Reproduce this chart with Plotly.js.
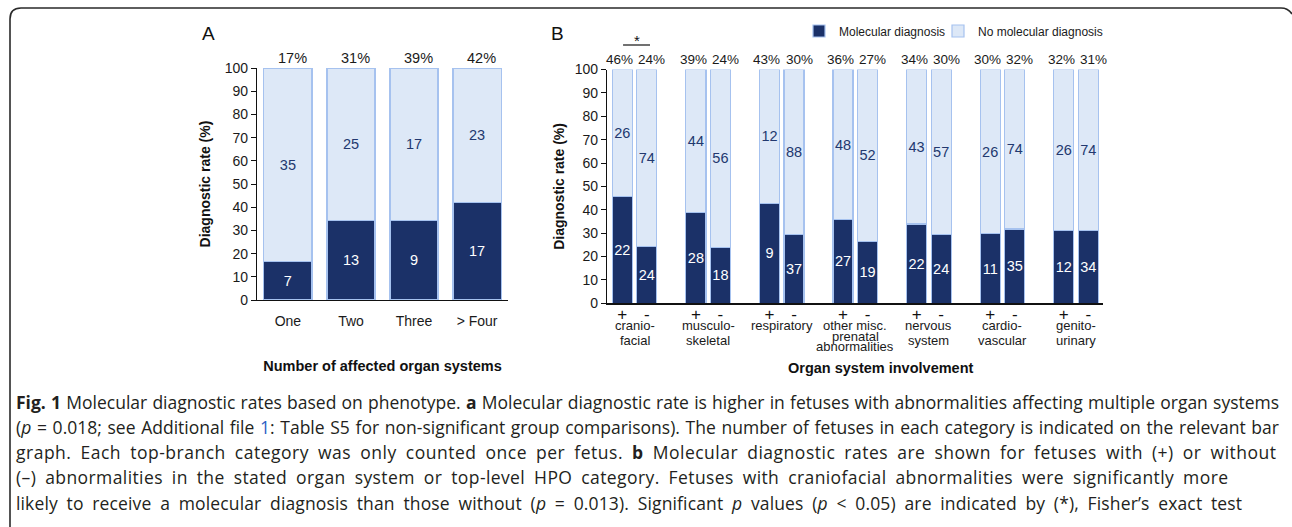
<!DOCTYPE html>
<html><head><meta charset="utf-8">
<script src="https://cdn.plot.ly/plotly-3.0.1.min.js"></script>
<style>html,body{margin:0;padding:0;background:#fff;overflow:hidden}#chart{width:1292px;height:527px}</style>
</head><body><div id="chart"></div>
<script>
// ---------- data ----------
const categoriesA = ['One', 'Two', 'Three', '> Four'];
const diagRateA = [16.5, 34.1, 34.4, 42.2];
const countDxA = [7, 13, 9, 17];
const countNoDxA = [35, 25, 17, 23];
const pctLabelsA = ['17%', '31%', '39%', '42%'];

const groupsB = ['cranio-<br>facial', 'musculo-<br>skeletal', 'respiratory', 'other misc.<br>prenatal<br>abnormalities', 'nervous<br>system', 'cardio-<br>vascular', 'genito-<br>urinary'];
const signsB = ['+', '-'];
const diagRateB = [45.6, 24.3, 38.7, 23.9, 42.8, 29.3, 35.8, 26.5, 33.9, 29.3, 29.7, 31.8, 31.2, 31.2];
const countDxB = [22, 24, 28, 18, 9, 37, 27, 19, 22, 24, 11, 35, 12, 34];
const countNoDxB = [26, 74, 44, 56, 12, 88, 48, 52, 43, 57, 26, 74, 26, 74];
const pctLabelsB = ['46%', '24%', '39%', '24%', '43%', '30%', '36%', '27%', '34%', '30%', '30%', '32%', '32%', '31%'];
const significantGroupsB = [0];

const seriesNames = ['Molecular diagnosis', 'No molecular diagnosis'];
const panelLabels = ['A', 'B'];
const axisTitles = ['<b>Number of affected organ systems</b>', '<b>Organ system involvement</b>', '<b>Diagnostic rate (%)</b>'];

const captionLines = [
  '<b>Fig. 1</b> Molecular diagnostic rates based on phenotype. <b>a</b> Molecular diagnostic rate is higher in fetuses with abnormalities affecting multiple organ systems',
  '(<i>p</i> = 0.018; see Additional file <span style="color:#2b5fc4">1</span>: Table S5 for non-significant group comparisons). The number of fetuses in each category is indicated on the relevant bar',
  'graph. Each top-branch category was only counted once per fetus. <b>b</b> Molecular diagnostic rates are shown for fetuses with (+) or without',
  '(\u2013) abnormalities in the stated organ system or top-level HPO category. Fetuses with craniofacial abnormalities were significantly more',
  'likely to receive a molecular diagnosis than those without (<i>p</i> = 0.013). Significant <i>p</i> values (<i>p</i> &lt; 0.05) are indicated by (*), Fisher\u2019s exact test'
];
const captionLineEnds = [1277, 1277, 1274, 1226, 1240];

// ---------- helpers ----------
const W = 1292, H = 527;
const px = x => x / W;
const py = y => 1 - y / H;
const DARK = '#1b3168', LIGHT = '#dde8f7', EDGE = '#a6c2ef';
const FONT = 'Liberation Sans, Arial, sans-serif';
const CAP_X = 14;

const xB = diagRateB.map((_, i) => Math.floor(i / 2) * 3 + (i % 2));
const tickTextB = diagRateB.map((_, i) => signsB[i % 2]);

const barCommon = {
  type: 'bar', textposition: 'inside', insidetextanchor: 'middle', textangle: 0,
  constraintext: 'none', hoverinfo: 'skip', cliponaxis: false
};

const traces = [
  Object.assign({}, barCommon, {
    name: seriesNames[0], legend: 'legend', x: categoriesA, y: diagRateA,
    text: countDxA.map(String), width: 0.762, xaxis: 'x', yaxis: 'y',
    marker: {color: DARK, line: {color: EDGE, width: 1.2}},
    insidetextfont: {color: '#ffffff', size: 14.5, family: FONT}
  }),
  Object.assign({}, barCommon, {
    name: seriesNames[1], legend: 'legend2', x: categoriesA, y: diagRateA.map(v => 100 - v),
    text: countNoDxA.map(String), width: 0.762, xaxis: 'x', yaxis: 'y',
    marker: {color: LIGHT, line: {color: EDGE, width: 1.2}},
    insidetextfont: {color: '#22386f', size: 14.5, family: FONT}
  }),
  Object.assign({}, barCommon, {
    name: seriesNames[0], showlegend: false, x: xB, y: diagRateB,
    text: countDxB.map(String), width: 0.816, xaxis: 'x2', yaxis: 'y2',
    marker: {color: DARK, line: {color: EDGE, width: 1.2}},
    insidetextfont: {color: '#ffffff', size: 14.5, family: FONT}
  }),
  Object.assign({}, barCommon, {
    name: seriesNames[1], showlegend: false, x: xB, y: diagRateB.map(v => 100 - v),
    text: countNoDxB.map(String), width: 0.816, xaxis: 'x2', yaxis: 'y2',
    marker: {color: LIGHT, line: {color: EDGE, width: 1.2}},
    insidetextfont: {color: '#22386f', size: 14.5, family: FONT}
  })
];

const annotations = [];
const txt = (o) => Object.assign({showarrow: false, yanchor: 'middle', xanchor: 'center', font: {family: FONT, size: 14, color: '#1a1a1a'}}, o);

annotations.push(txt({text: panelLabels[0], xref: 'paper', yref: 'paper', x: px(208), y: py(33), font: {family: FONT, size: 19, color: '#111'}}));
annotations.push(txt({text: panelLabels[1], xref: 'paper', yref: 'paper', x: px(557), y: py(33), font: {family: FONT, size: 19, color: '#111'}}));

pctLabelsA.forEach((t, i) => annotations.push(txt({text: t, xref: 'x', yref: 'paper', x: categoriesA[i], y: py(58.5), xshift: 4.5,
  font: {family: FONT, size: 14.5, color: '#1a1a1a'}})));
pctLabelsB.forEach((t, i) => annotations.push(txt({text: t, xref: 'x2', yref: 'paper', x: xB[i], y: py(59.5),
  xshift: i % 2 ? 5 : -2.5, font: {family: FONT, size: 13.5, color: '#1a1a1a'}})));

significantGroupsB.forEach(g => annotations.push(txt({text: '*', xref: 'x2', yref: 'paper', x: g * 3 + 0.58, y: py(40.5), font: {family: FONT, size: 15, color: '#111'}})));

groupsB.forEach((label, g) => {
  const lines = label.split('<br>');
  const step = lines.length > 2 ? 10.5 : 15;
  lines.forEach((ln, k) => annotations.push(txt({
    text: ln, xref: 'x2', yref: 'paper', x: g * 3 + 0.5, y: py(325.5 + k * step),
    font: {family: FONT, size: 13, color: '#1a1a1a'}
  })));
});

annotations.push(txt({text: axisTitles[1], xref: 'paper', yref: 'paper', x: px(881), y: py(368), font: {family: FONT, size: 14.5, color: '#111'}}));

const captionStart = annotations.length;
captionLines.forEach((t, i) => annotations.push({
  text: t, showarrow: false, xref: 'paper', yref: 'paper', xanchor: 'left', yanchor: 'middle',
  x: px(CAP_X), y: py(401.5 + i * 25.3), align: 'left',
  font: {family: 'Open Sans, sans-serif', size: 17.5, color: '#231f20'}
}));

const shapes = [];
significantGroupsB.forEach(g => shapes.push({
  type: 'line', xref: 'x2', yref: 'paper', x0: g * 3 + 0.03, x1: g * 3 + 1.13, y0: py(45), y1: py(45),
  line: {color: '#111', width: 1.2}
}));
// figure frame
const r = 11;
shapes.push({
  type: 'path', xref: 'paper', yref: 'paper', line: {color: '#2a2a2a', width: 1.6},
  path: `M ${px(10)},${py(530)} L ${px(10)},${py(8 + r)} Q ${px(10)},${py(8)} ${px(10 + r)},${py(8)} L ${px(1281)},${py(8)} Q ${px(1288)},${py(8)} ${px(1292)},${py(14)}`
});

const yCommon = {
  range: [0, 100], dtick: 10, ticks: 'outside', ticklen: 5, tickwidth: 1, tickcolor: '#111',
  showline: true, linecolor: '#111', linewidth: 1.2, showgrid: false, zeroline: false,
  tickfont: {family: FONT, size: 14, color: '#1a1a1a'}, fixedrange: true, automargin: false
};

const legendCommon = {orientation: 'h', yanchor: 'middle', xanchor: 'left', y: py(31),
  font: {family: FONT, size: 12, color: '#1a1a1a'}, bgcolor: 'rgba(0,0,0,0)'};

const layout = {
  width: W, height: H, margin: {l: 0, r: 0, t: 0, b: 0},
  paper_bgcolor: '#fff', plot_bgcolor: 'rgba(0,0,0,0)',
  barmode: 'stack', font: {family: FONT, color: '#1a1a1a'},
  showlegend: true,
  legend: Object.assign({}, legendCommon, {x: px(799)}),
  legend2: Object.assign({}, legendCommon, {x: px(938)}),
  xaxis: {domain: [px(257), px(508)], range: [-0.49, 3.49], anchor: 'y', type: 'category',
    showline: true, linecolor: '#111', linewidth: 1.2, ticks: '', showgrid: false, zeroline: false,
    tickfont: {family: FONT, size: 14, color: '#1a1a1a'}, ticklabelstandoff: 8, fixedrange: true, automargin: false,
    title: {text: axisTitles[0], font: {family: FONT, size: 14.5, color: '#111'}, standoff: 32}},
  yaxis: Object.assign({}, yCommon, {domain: [py(300), py(68)], anchor: 'x',
    title: {text: axisTitles[2], font: {family: FONT, size: 14, color: '#111'}, standoff: 10}}),
  xaxis2: {domain: [px(607), px(1103)], range: [-0.625, 19.6], anchor: 'y2',
    tickvals: xB, ticktext: tickTextB, showline: true, linecolor: '#111', linewidth: 1.2, ticks: '',
    showgrid: false, zeroline: false, tickfont: {family: FONT, size: 17, color: '#111'}, ticklabelstandoff: -5,
    fixedrange: true, automargin: false},
  yaxis2: Object.assign({}, yCommon, {domain: [py(303.3), py(69.5)], anchor: 'x2',
    title: {text: axisTitles[2], font: {family: FONT, size: 14, color: '#111'}, standoff: 6}}),
  annotations: annotations, shapes: shapes
};

Plotly.newPlot('chart', traces, layout, {displayModeBar: false, staticPlot: true}).then(gd => {
  // justify caption lines like the printed figure: word spacing first, any remainder as light letter spacing
  captionLines.forEach((_, i) => {
    const el = gd.querySelector('.annotation[data-index="' + (captionStart + i) + '"] text.annotation-text');
    if (!el) return;
    const natural = el.getComputedTextLength();
    const target = captionLineEnds[i] - CAP_X;
    const content = el.textContent;
    const spaces = (content.match(/ /g) || []).length;
    let extra = target - natural;
    if (extra <= 0 || !spaces) return;
    const ws = Math.min(extra / spaces, 4);
    extra -= ws * spaces;
    const ls = extra / Math.max(1, content.length - 1);
    el.style.wordSpacing = ws.toFixed(2) + 'px';
    if (ls > 0) el.style.letterSpacing = ls.toFixed(3) + 'px';
  });
});
</script>
</body></html>
